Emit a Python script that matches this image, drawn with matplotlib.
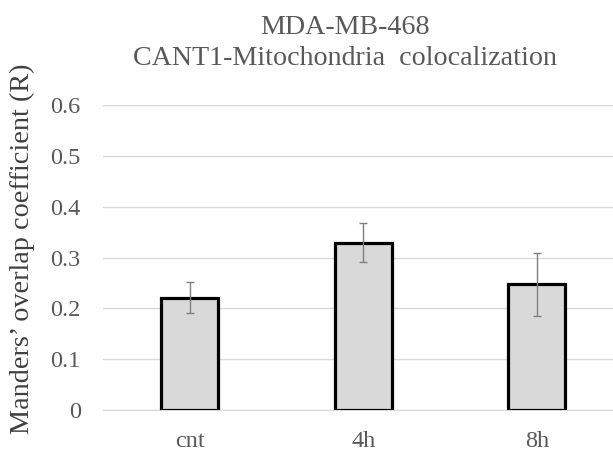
import matplotlib.pyplot as plt

# values
groups = ['cnt', '4h', '8h']
means = [0.221, 0.329, 0.247]
errs = [0.031, 0.038, 0.062]

plt.rcParams['font.family'] = ['Liberation Serif', 'DejaVu Serif']

fig = plt.figure(figsize=(6.13, 4.53), dpi=100)
ax = fig.add_axes([103 / 613, 43 / 453, 510 / 613, 305 / 453])

x = range(len(groups))
ax.bar(x, means, width=0.33, color='#d9d9d9', edgecolor='black', linewidth=2.3, zorder=3)
ax.errorbar(x, means, yerr=errs, fmt='none', ecolor='#7f7f7f', elinewidth=1.0,
            capsize=2.6, capthick=1.0, zorder=4)

ax.set_ylim(0, 0.6)
ax.set_xlim(-0.5, -0.5 + 510 / 173.5)
ax.set_yticks([0, 0.1, 0.2, 0.3, 0.4, 0.5, 0.6])
ax.set_yticklabels(['0', '0.1', '0.2', '0.3', '0.4', '0.5', '0.6'])
ax.set_xticks(list(x))
ax.set_xticklabels(groups)
ax.yaxis.grid(True, color='#d9d9d9', linewidth=1, zorder=0)
for s in ['top', 'right', 'left']:
    ax.spines[s].set_visible(False)
ax.spines['bottom'].set_color('#d9d9d9')
ax.tick_params(axis='both', length=0, labelsize=17.5, colors='#595959')
ax.tick_params(axis='y', pad=16)
ax.tick_params(axis='x', pad=15)

# axis title and chart title placed in figure pixels
fig.text(22 / 613, 1 - 249 / 453, 'Manders\u2019 overlap coefficient (R)', rotation=90,
         fontsize=20.3, color='#404040', ha='center', va='center')
fig.text(345 / 613, 1 - 43 / 453, 'MDA-MB-468\nCANT1-Mitochondria  colocalization',
         fontsize=20.2, color='#595959', ha='center', va='center',
         multialignment='center', linespacing=1.35)

fig.savefig('out.png', dpi=100)
